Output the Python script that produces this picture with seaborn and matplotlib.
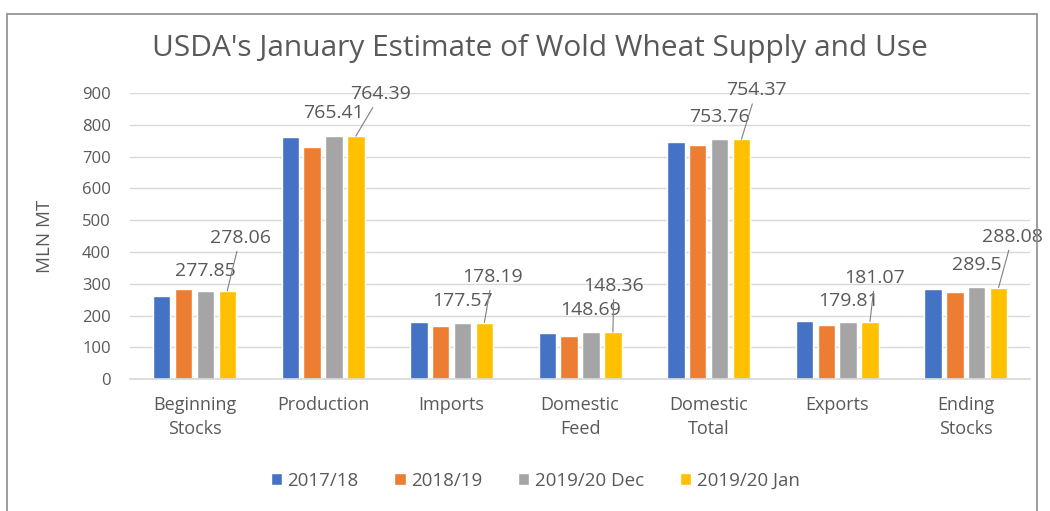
import pandas as pd
import matplotlib.pyplot as plt
import seaborn as sns
from matplotlib.patches import Rectangle

categories = ["Beginning\nStocks", "Production", "Imports", "Domestic\nFeed",
              "Domestic\nTotal", "Exports", "Ending\nStocks"]
seasons = ["2017/18", "2018/19", "2019/20 Dec", "2019/20 Jan"]

v_2017_18  = [261, 763, 179, 144, 745, 182, 283]
v_2018_19  = [282, 731, 167, 135, 738, 171, 275]
v_2019_dec = [277.85, 765.41, 177.57, 148.69, 753.76, 179.81, 289.5]
v_2019_jan = [278.06, 764.39, 178.19, 148.36, 754.37, 181.07, 288.08]

colors = ["#4472C4", "#ED7D31", "#A5A5A5", "#FFC000"]
TXT = "#595959"

# pixel offsets of the labels (grey label, then yellow label with leader line)
dec_off = [(0, 20), (0, 23), (0, 22), (0, 22), (0, 22), (0, 21), (0, 22)]
jan_off = [(13, 53), (25, 42), (8, 46), (1, 46), (15, 49), (5, 44), (14, 51)]

df = pd.DataFrame({
    "cat": categories * 4,
    "season": [s for s in seasons for _ in categories],
    "value": v_2017_18 + v_2018_19 + v_2019_dec + v_2019_jan,
})

sns.set_theme(style="white")
plt.rcParams["font.family"] = ["Open Sans", "DejaVu Sans"]

fig = plt.figure(figsize=(10.5, 5.11), dpi=100)
ax = fig.add_axes([0.124, 0.258, 0.857, 0.560])

sns.barplot(data=df, x="cat", y="value", hue="season", palette=colors,
            width=0.68, gap=0.2, saturation=1, ax=ax, legend=True)

ax.set_ylim(0, 900)
ax.set_yticks(range(0, 901, 100))
ax.yaxis.grid(True, color="#D9D9D9", lw=1)
ax.set_axisbelow(True)
for s in ["top", "right", "left"]:
    ax.spines[s].set_visible(False)
ax.spines["bottom"].set_color("#D9D9D9")
ax.tick_params(axis="y", length=0, labelsize=12, labelcolor=TXT, pad=14)
ax.tick_params(axis="x", length=0, labelsize=13, labelcolor=TXT, pad=12)
for t in ax.get_xticklabels():
    t.set_linespacing(1.45)
ax.set_xlabel("")
ax.set_ylabel("MLN MT", fontsize=13.5, color=TXT, labelpad=20)

lab_kw = dict(ha="center", va="center", fontsize=14, color=TXT,
              textcoords="offset pixels", annotation_clip=False)
for i, bar in enumerate(ax.containers[2]):
    x = bar.get_x() + bar.get_width() / 2
    ax.annotate(f"{v_2019_dec[i]:g}", (x, bar.get_height()),
                xytext=dec_off[i], **lab_kw)
for i, bar in enumerate(ax.containers[3]):
    x = bar.get_x() + bar.get_width() / 2
    ax.annotate(f"{v_2019_jan[i]:g}", (x, bar.get_height()),
                xytext=jan_off[i],
                arrowprops=dict(arrowstyle="-", color="#7F7F7F", lw=0.8,
                                shrinkA=1, shrinkB=0), **lab_kw)

ax.legend(loc="upper center", bbox_to_anchor=(0.45, -0.265), ncol=4,
          frameon=False, handlelength=0.6, handleheight=0.6,
          handletextpad=0.3, columnspacing=1.9,
          prop={"size": 13.5}, labelcolor=TXT)

fig.text(0.514, 0.906, "USDA's January Estimate of Wold Wheat Supply and Use",
         ha="center", va="center", fontsize=21.5, color=TXT)

fig.patches.append(Rectangle((0.007, -0.01), 0.981, 0.983, transform=fig.transFigure,
                             fill=False, edgecolor="#8C8C8C", lw=1.2))

fig.savefig("out.png", dpi=100)
